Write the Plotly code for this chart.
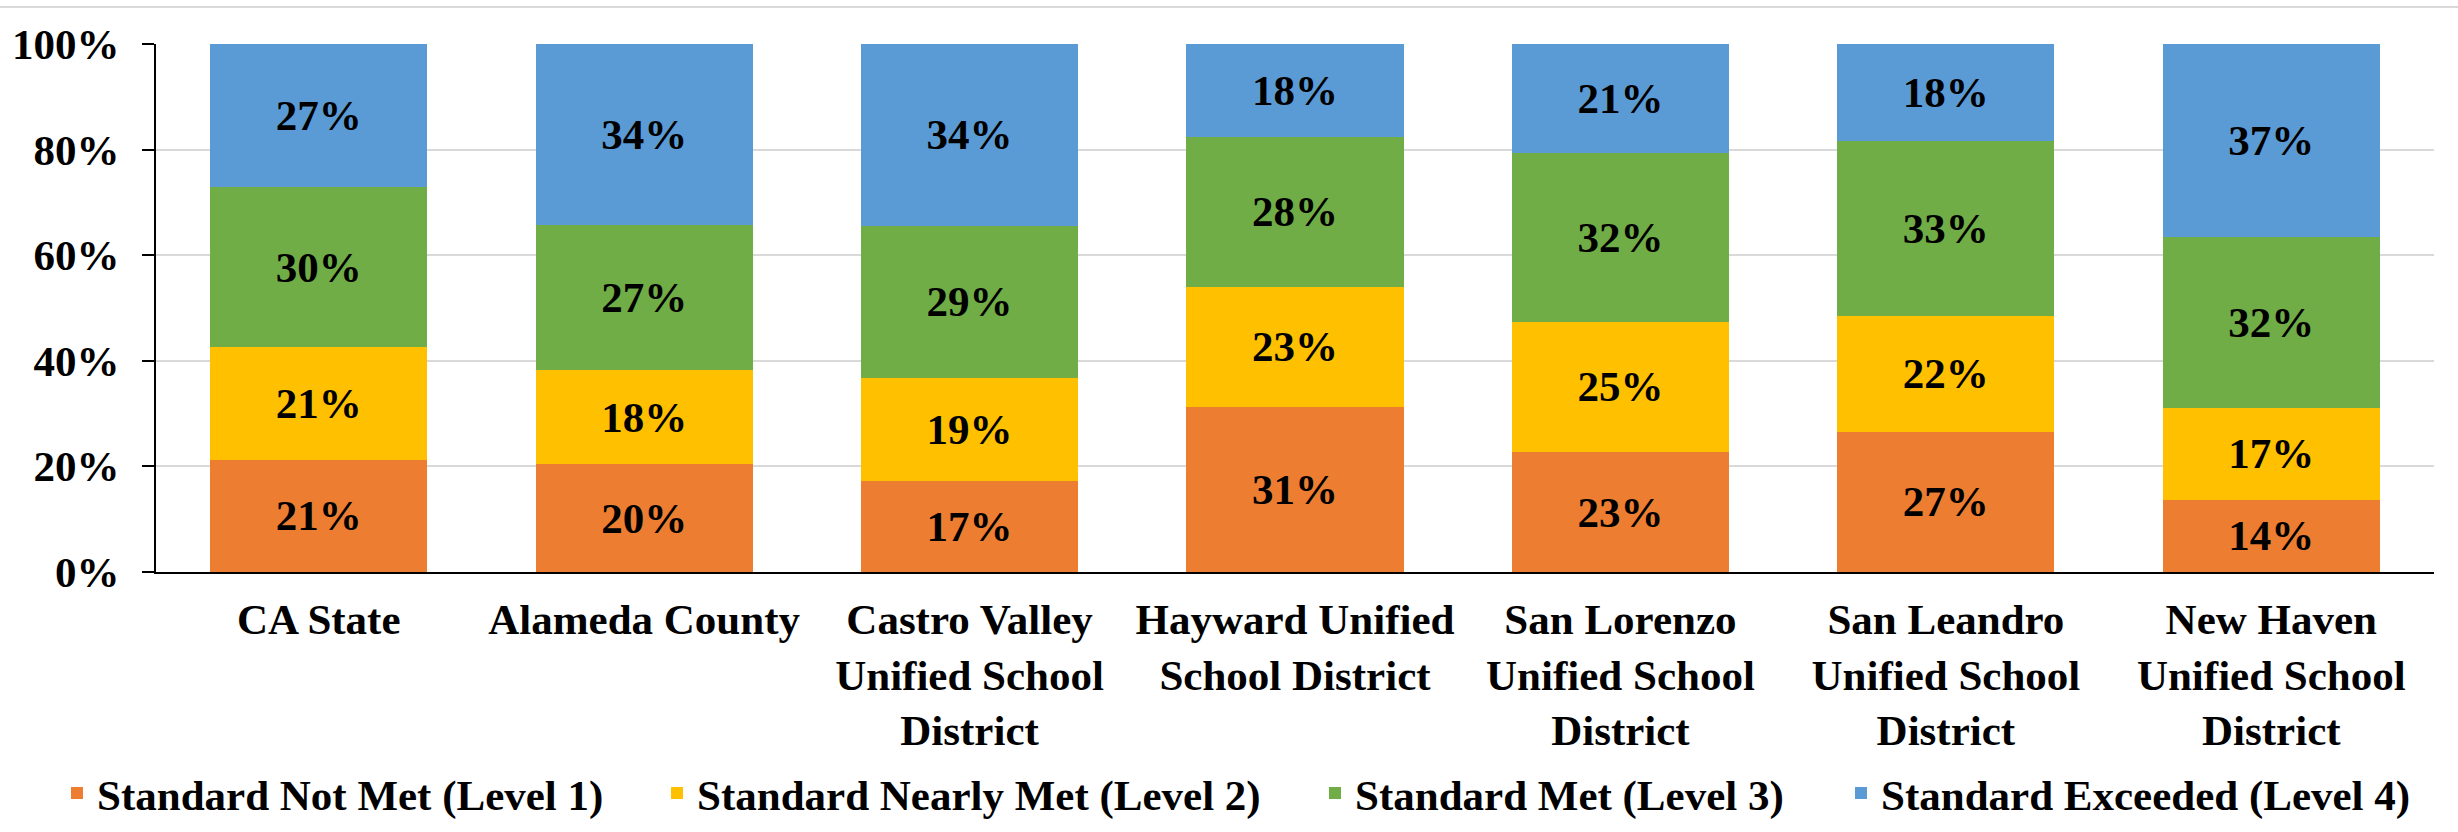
import plotly.graph_objects as go

categories = [
    "CA State",
    "Alameda County",
    "Castro Valley<br>Unified School<br>District",
    "Hayward Unified<br>School District",
    "San Lorenzo<br>Unified School<br>District",
    "San Leandro<br>Unified School<br>District",
    "New Haven<br>Unified School<br>District",
]

level1 = [21.3, 20.4, 17.3, 31.3, 22.7, 26.6, 13.7]
level2 = [21.3, 17.9, 19.4, 22.7, 24.7, 21.9, 17.4]
level3 = [30.3, 27.4, 28.9, 28.4, 32.0, 33.1, 32.3]
level4 = [27.1, 34.3, 34.4, 17.6, 20.6, 18.4, 36.6]

series_names = [
    "Standard Not Met (Level 1)",
    "Standard Nearly Met (Level 2)",
    "Standard Met (Level 3)",
    "Standard Exceeded (Level 4)",
]
series_values = [level1, level2, level3, level4]
colors = ["#ED7D31", "#FFC000", "#70AD47", "#5B9BD5"]

FONT = "Liberation Serif"
FS = 43

W, H = 2458, 832
ml, mr, mt, mb = 156, 24, 44, 260
pw = W - ml - mr
ph = H - mt - mb

def px_to_paper_x(px):
    return (px - ml) / pw

def px_to_paper_y(py):
    return (H - mb - py) / ph

legend_ids = ["legend", "legend2", "legend3", "legend4"]
legend_px = [57, 657, 1315, 1841]

fig = go.Figure()
for name, vals, col, lid in zip(series_names, series_values, colors, legend_ids):
    fig.add_trace(go.Bar(
        x=categories, y=vals, name=name,
        marker=dict(color=col, line=dict(width=0)),
        texttemplate="%{y:.0f}%",
        textposition="inside",
        insidetextanchor="middle",
        textfont=dict(family=FONT, size=FS, color="black", weight="bold"),
        legend=lid,
        showlegend=True,
    ))

layout_legends = {}
for lid, lx in zip(legend_ids, legend_px):
    layout_legends[lid] = dict(
        x=px_to_paper_x(lx), xanchor="left",
        y=px_to_paper_y(793), yanchor="middle",
        orientation="h",
        font=dict(family=FONT, size=FS, color="black", weight="bold"),
        bgcolor="rgba(0,0,0,0)",
    )

fig.update_layout(
    width=W, height=H,
    margin=dict(l=ml, r=mr, t=mt, b=mb, autoexpand=False),
    barmode="stack",
    bargap=0.333,
    plot_bgcolor="white",
    paper_bgcolor="white",
    showlegend=True,
    **layout_legends,
)

fig.update_yaxes(
    range=[0, 100], dtick=20, ticksuffix="%",
    showgrid=True, gridcolor="#D9D9D9", gridwidth=2,
    showline=True, linecolor="black", linewidth=2,
    ticks="outside", ticklen=12, tickwidth=2, tickcolor="black",
    tickfont=dict(family=FONT, size=FS, color="black", weight="bold"),
    ticklabelstandoff=14,
    zeroline=False, automargin=False,
)
fig.update_xaxes(
    showline=True, linecolor="black", linewidth=2,
    ticks="", showgrid=False,
    tickfont=dict(family=FONT, size=FS, color="black", weight="bold"),
    ticklabelstandoff=8, automargin=False,
)

fig.add_shape(
    type="line", xref="paper", yref="paper",
    x0=px_to_paper_x(0), x1=px_to_paper_x(W),
    y0=px_to_paper_y(7), y1=px_to_paper_y(7),
    line=dict(color="#D9D9D9", width=2),
)

fig.write_html("out.html", config={"displayModeBar": False})

# remove the default page margin so the figure sits at the top-left corner
with open("out.html", encoding="utf-8") as f:
    html = f.read()
html = html.replace("<head>", "<head><style>html,body{margin:0;padding:0;overflow:hidden;}</style>", 1)
with open("out.html", "w", encoding="utf-8") as f:
    f.write(html)
